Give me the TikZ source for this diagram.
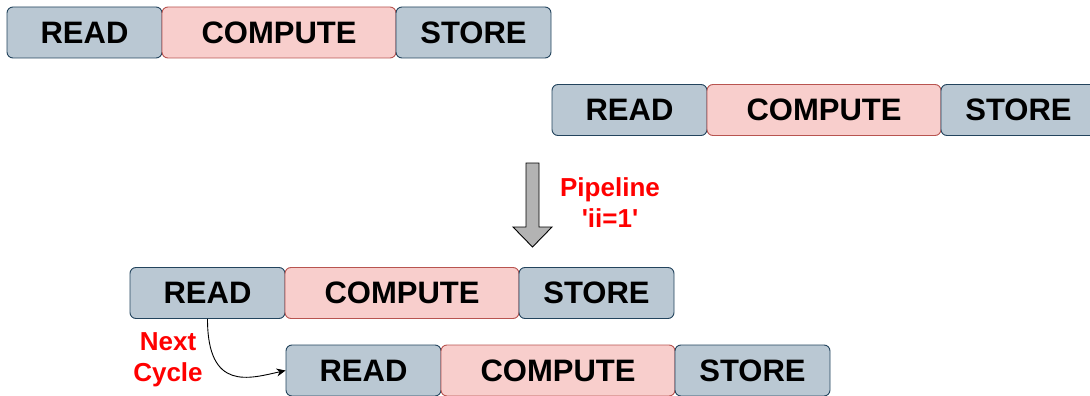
\documentclass[tikz,border=0pt]{standalone}
\usepackage{fontspec}
\setmainfont{Liberation Sans}
\usetikzlibrary{arrows.meta,calc}
\definecolor{rdfill}{HTML}{BAC8D3}
\definecolor{rdline}{HTML}{23445D}
\definecolor{cpfill}{HTML}{F8CECC}
\definecolor{cpline}{HTML}{B85450}
\definecolor{arrowgray}{HTML}{B3B3B3}
\tikzset{
  stage/.style={rounded corners=6pt, line width=0.9pt, minimum height=51pt,
    inner sep=0pt, font=\fontsize{31}{36}\selectfont\bfseries},
  io/.style={stage, fill=rdfill, draw=rdline, minimum width=155pt},
  calc/.style={stage, fill=cpfill, draw=cpline, minimum width=234pt},
  note/.style={text=red, align=center, font=\fontsize{26}{31}\selectfont\bfseries}
}
\begin{document}
\begin{tikzpicture}[x=1pt, y=-1pt]
\useasboundingbox (0,0) rectangle (1090,396);
% first iteration
\node[io]   (r1) at (84.5,32.5) {READ};
\node[calc] (c1) at (279,32.5)  {COMPUTE};
\node[io]   (s1) at (473.5,32.5) {STORE};
% second iteration, sequential
\node[io]   (r2) at (629.5,110) {READ};
\node[calc] (c2) at (824,110)   {COMPUTE};
\node[io]   (s2) at (1018.5,110) {STORE};
% pipelining arrow
\coordinate (pa) at (532.5,163);
\draw[fill=arrowgray, line width=0.9pt]
  ($(pa)+(-6.5,0)$) -- ++(13,0) -- ++(0,64) -- ++(13,0) -- ($(pa)+(0,84)$)
  -- ($(pa)+(-19.5,64)$) -- ++(13,0) -- cycle;
\node[note] (pl) at (610,203) {Pipeline\\\textquotesingle ii=1\textquotesingle};
% pipelined iterations
\node[io]   (r3) at (207.5,293) {READ};
\node[calc] (c3) at (402,293)   {COMPUTE};
\node[io]   (s3) at (596.5,293) {STORE};
\node[io]   (r4) at (363.5,370.5) {READ};
\node[calc] (c4) at (558,370.5)   {COMPUTE};
\node[io]   (s4) at (752.5,370.5) {STORE};
\node[note] (nc) at (168,360) {Next\\Cycle};
\draw[line width=0.9pt, -{Stealth[length=9pt,width=8pt]}]
  (r3.south) .. controls ($(r3.south)+(0,73)$) and ($(r4.west)+(-36,8)$) .. (r4.west);
\end{tikzpicture}
\end{document}
